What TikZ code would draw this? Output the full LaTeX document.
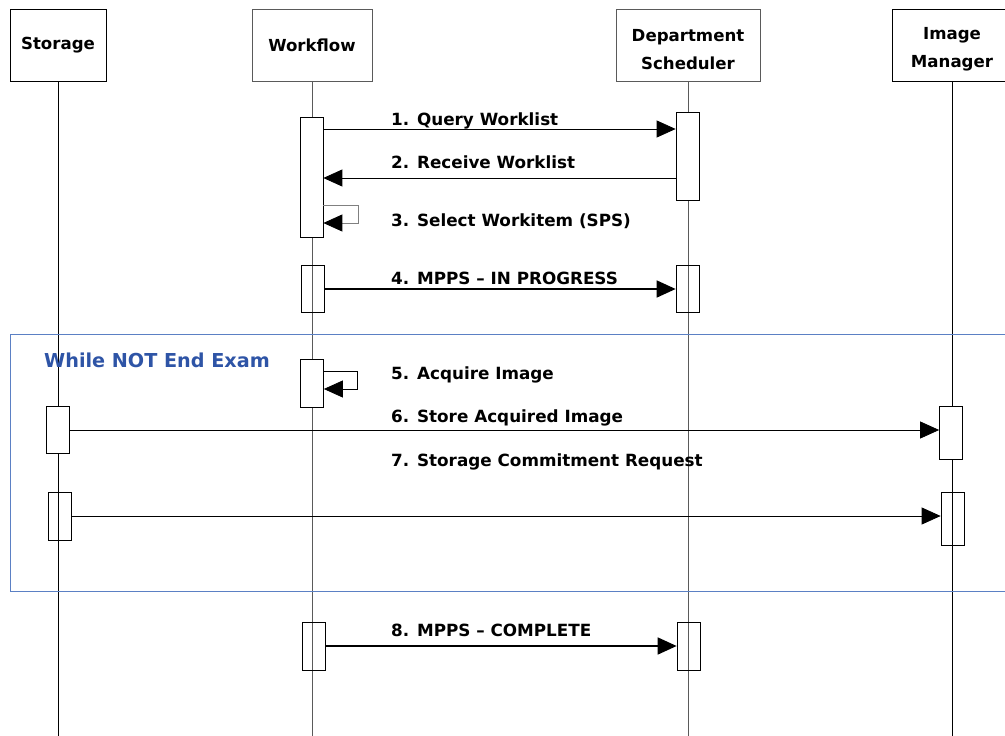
\documentclass[tikz,border=0pt]{standalone}
\usepackage{fontspec}
\setmainfont{DejaVu Sans}
\usetikzlibrary{arrows.meta}
\definecolor{framebl}{RGB}{91,128,196}
\definecolor{textbl}{RGB}{46,84,166}
\definecolor{lgray}{RGB}{90,90,90}
\begin{document}
\begin{tikzpicture}[x=1pt,y=-1pt,
  head/.style={draw, line width=0.8pt, minimum height=72pt, inner sep=2pt,
    align=center, font=\bfseries\fontsize{16.6}{28}\selectfont},
  act/.style={draw, fill=white, line width=0.7pt, minimum width=23pt, inner sep=0pt},
  actt/.style={draw, line width=0.7pt, minimum width=23pt, inner sep=0pt},
  life/.style={line width=0.8pt},
  msg/.style={-{Triangle[length=19pt,width=17pt,color=black]}, line width=0.8pt},
  msgb/.style={-{Triangle[length=19pt,width=17pt]}, line width=1.6pt},
  lbl/.style={anchor=base west, inner sep=0pt, font=\bfseries\fontsize{16.8}{18}\selectfont}]
\useasboundingbox (0,0) rectangle (1005,736);
\clip (0,0) rectangle (1005,736);
% headers
\node[head, minimum width=96pt] (st) at (58,45) {Storage};
\node[head, draw=lgray, minimum width=120pt] (wf) at (312,45) {Workflow};
\node[head, draw=lgray, minimum width=144pt] (ds) at (688,45) {\rule{0pt}{21pt}Department\\Scheduler};
\node[head, minimum width=120pt] (im) at (952,45) {\rule{0pt}{21pt}Image\\Manager};
% lifelines
\coordinate (stb) at (58,736);
\coordinate (wfb) at (312,736);
\coordinate (dsb) at (688,736);
\coordinate (imb) at (952,736);
\draw[life] (st.south) -- (stb);
\draw[life, lgray] (wf.south) -- (wfb);
\draw[life, lgray] (ds.south) -- (dsb);
\draw[life] (im.south) -- (imb);
% loop frame
\node[draw=framebl, line width=0.8pt, minimum width=1010pt, minimum height=257pt, inner sep=0pt, anchor=north west] (loop) at (10,334) {};
\node[anchor=base west, inner sep=0pt, text=textbl, font=\bfseries\fontsize{19.2}{20}\selectfont] (looplbl) at (44,367) {While NOT End Exam};
% activations
\node[act, minimum height=120pt] (wa1) at (311.5,177) {};
\node[act, minimum height=88pt] (da1) at (687.5,156) {};
\node[actt, minimum height=47pt] (wa2) at (312.5,288.5) {};
\node[actt, minimum height=47pt] (da2) at (687.5,288.5) {};
\node[act, minimum height=48pt] (wa3) at (312,383) {};
\node[act, minimum height=47pt] (sa1) at (58,429.5) {};
\node[act, minimum height=53pt] (ia1) at (951,432.5) {};
\node[actt, minimum height=48pt] (sa2) at (60,516) {};
\node[actt, minimum height=53pt] (ia2) at (952.5,518.5) {};
\node[actt, minimum height=48pt] (wa4) at (314,646) {};
\node[actt, minimum height=48pt] (da4) at (688.5,646) {};
% messages
\draw[msg] (wa1.east |- 0,129) -- (da1.west |- 0,129);
\node[lbl] (l1) at (391,125) {1. Query Worklist};
\draw[msg] (da1.west |- 0,178) -- (wa1.east |- 0,178);
\node[lbl] (l2) at (391,168) {2. Receive Worklist};
\draw[msg, draw=gray] (wa1.east |- 0,205) -- ++(35,0) |- (wa1.east |- 0,223);
\node[lbl] (l3) at (391,226) {3. Select Workitem (SPS)};
\draw[msgb] (wa2.east |- 0,289) -- (da2.west |- 0,289);
\node[lbl] (l4) at (391,284) {4. MPPS -- IN PROGRESS};
\draw[msg] (wa3.east |- 0,371) -- ++(34,0) |- (wa3.east |- 0,389);
\node[lbl] (l5) at (391,379) {5. Acquire Image};
\draw[msg] (sa1.east |- 0,430) -- (ia1.west |- 0,430);
\node[lbl] (l6) at (391,422) {6. Store Acquired Image};
\node[lbl] (l7) at (391,466) {7. Storage Commitment Request};
\draw[msg] (sa2.east |- 0,516) -- (ia2.west |- 0,516);
\draw[msgb] (wa4.east |- 0,646) -- (da4.west |- 0,646);
\node[lbl] (l8) at (391,636) {8. MPPS -- COMPLETE};
\end{tikzpicture}
\end{document}
